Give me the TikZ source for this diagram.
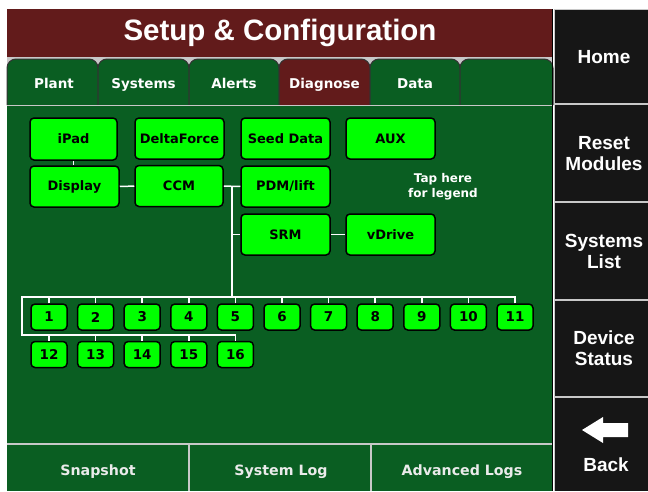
\documentclass[tikz,border=0pt]{standalone}
\usepackage{fontspec}
\setmainfont{DejaVu Sans}
\newfontfamily\arialfam{Liberation Sans}
\definecolor{panelgreen}{RGB}{10,94,34}
\definecolor{titlered}{RGB}{98,27,27}
\definecolor{sidepanel}{RGB}{22,22,22}
\definecolor{edgegray}{RGB}{200,200,200}
\definecolor{boxgreen}{RGB}{0,255,0}
\definecolor{softwhite}{RGB}{235,235,235}
\tikzset{
  unitbox/.style={draw=black, line width=1.5pt, fill=boxgreen, rounded corners=4pt,
    font=\fontsize{13}{15}\selectfont\bfseries, text=black, inner sep=0pt},
  devbox/.style={unitbox, minimum width=89pt, minimum height=41pt},
  numbox/.style={unitbox, minimum width=36pt, minimum height=26pt, font=\fontsize{13.5}{15}\selectfont\bfseries},
  wire/.style={draw=white, line width=1.5pt},
  edge/.style={draw=edgegray, line width=1.5pt},
  tabshape/.style={draw=black!80, line width=1pt, rounded corners=9pt},
  tablabel/.style={text=white, anchor=base, font=\fontsize{13.5}{15}\selectfont\bfseries},
  sidelabel/.style={text=white, align=center, font=\arialfam\bfseries\fontsize{19}{21}\selectfont},
  footlabel/.style={text=softwhite, anchor=base, font=\fontsize{14.2}{16}\selectfont\bfseries},
}
\begin{document}
\begin{tikzpicture}[x=1pt, y=-1pt]
\useasboundingbox (0,0) rectangle (648,491);
\fill[white] (0,0) rectangle (648,491);

% title bar
\fill[titlered] (7,9) rectangle (553,57);
\node[text=white, font=\arialfam\bfseries\fontsize{29.5}{33}\selectfont] (title) at (280,33) {Setup \& Configuration};

% tab strip
\fill[edgegray] (7,57) rectangle (553,105);
\foreach \xa/\xb/\col [count=\k] in {7/98/panelgreen, 98/189/panelgreen, 189/279/panelgreen, 279/370/titlered, 370/460/panelgreen, 460/553/panelgreen}{
  \filldraw[tabshape, fill=\col] (\xa,105) -- (\xa,59) -- (\xb,59) -- (\xb,105);
}
\node[tablabel] (tplant) at (54,88) {Plant};
\node[tablabel] (tsys) at (143.5,88) {Systems};
\node[tablabel] (talert) at (234,88) {Alerts};
\node[tablabel] (tdiag) at (324.5,88) {Diagnose};
\node[tablabel] (tdata) at (415,88) {Data};

% main panel and footer
\fill[panelgreen] (7,105) rectangle (553,491);
\draw[edge] (7,105.5) -- (553,105.5);
\draw[edge] (7,444) -- (553,444);
\draw[edge] (189,444) -- (189,491);
\draw[edge] (371,444) -- (371,491);
\node[footlabel] (snap) at (98,475) {Snapshot};
\node[footlabel] (slog) at (281,475) {System Log};
\node[footlabel] (alog) at (462,475) {Advanced Logs};

% side column
\fill[sidepanel] (554,9) rectangle (648,491);
\draw[black, line width=1pt] (552.5,9) -- (552.5,491);
\draw[edge] (554.5,9) -- (554.5,491);
\draw[edge] (554,9.5) -- (648,9.5);
\foreach \yy in {104,202,300,397}{ \draw[edge] (554,\yy) -- (648,\yy); }
\node[sidelabel] (home) at (604,57) {Home};
\node[sidelabel] (reset) at (604,153.5) {Reset\\Modules};
\node[sidelabel] (syslist) at (604,251.5) {Systems\\List};
\node[sidelabel] (devstat) at (604,348.5) {Device\\Status};
\node[sidelabel] (back) at (606,465) {Back};
\fill[white] (582,430) -- (603,417) -- (603,423) -- (628,423) -- (628,437) -- (603,437) -- (603,443) -- cycle;

% device boxes
\node[devbox, minimum width=87pt, minimum height=42pt] (ipad) at (73.5,139) {iPad};
\node[devbox] (delta) at (179.5,138.5) {DeltaForce};
\node[devbox] (seed) at (285.5,138.5) {Seed Data};
\node[devbox] (aux) at (390.5,138.5) {AUX};
\node[devbox] (display) at (74.5,186.5) {Display};
\node[devbox, minimum width=88pt] (ccm) at (179,186) {CCM};
\node[devbox] (pdm) at (285.5,186.5) {PDM/lift};
\node[devbox] (srm) at (285.5,234.5) {SRM};
\node[devbox] (vdrive) at (390.5,234.5) {vDrive};
\node[text=white, align=center, font=\fontsize{12}{15}\selectfont\bfseries] (legend) at (443,187) {Tap here\\for legend};

% row modules
\foreach \i in {1,...,11}{
  \node[numbox] (n\i) at ({49+46.6*(\i-1)},317) {\i};
}
\foreach \i in {12,...,16}{
  \node[numbox] (n\i) at ({49+46.6*(\i-12)},354.5) {\i};
}

% wiring
\coordinate (busL) at (22,297);
\coordinate (busB) at (22,335);
\coordinate (tee) at (232,186);
\draw[wire] (ipad.south) -- (ipad.south |- display.north);
\draw[wire] (display) -- (ccm);
\draw[wire] (ccm) -- (pdm);
\draw[wire] (srm) -- (vdrive);
\draw[wire] (tee) -- (tee |- busL);
\draw[wire] (tee |- srm) -- (srm);
\draw[wire] (n11.north) |- (busL) -- (busB) -| (n16.north);
\foreach \i in {1,...,10}{ \draw[wire] (n\i.north) -- (n\i.north |- busL); }
\foreach \i in {12,...,15}{ \draw[wire] (n\i.north) -- (n\i.north |- busB); }
\end{tikzpicture}
\end{document}
